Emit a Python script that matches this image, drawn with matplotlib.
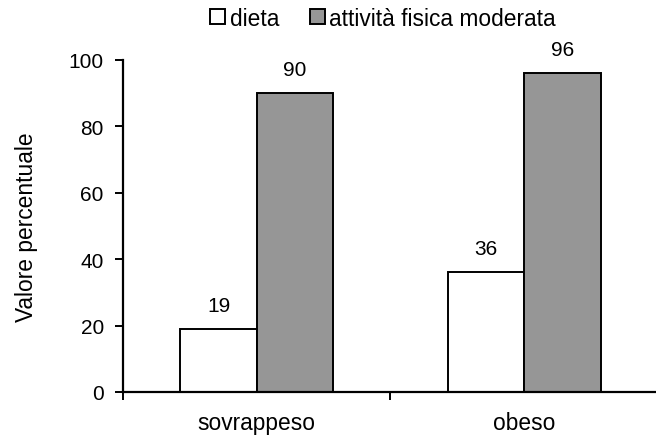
import numpy as np
import matplotlib
matplotlib.use("Agg")
import matplotlib.pyplot as plt

plt.rcParams.update({"font.family": ["Liberation Sans", "DejaVu Sans"],
                     "font.size": 15})

categories = ["sovrappeso", "obeso"]
dieta = [19, 36]
attivita = [90, 96]
series_names = ["dieta", "attività fisica moderata"]

x = np.arange(len(categories))
w = 0.2866
txt = 16.4   # word labels come out a bit wider than the digits in the original

fig = plt.figure(figsize=(6.56, 4.39), dpi=100)
ax = fig.add_axes([123.2 / 656, 1 - 393.0 / 439, 534.6 / 656, 332.3 / 439])

b1 = ax.bar(x - w / 2, dieta, w, color="white", edgecolor="black", lw=1.4,
            label=series_names[0])
b2 = ax.bar(x + w / 2, attivita, w, color="#969696", edgecolor="black", lw=1.4,
            label=series_names[1])
ax.bar_label(b1, padding=10, fontsize=15)
ax.bar_label(b2, padding=10, fontsize=15)

ax.set_xlim(-0.5, len(categories) - 0.5)
ax.set_ylim(0, 100)
ax.set_yticks(np.arange(0, 101, 20))
ax.tick_params(axis="y", direction="out", length=6, width=1.4, pad=8)

# ticks on category boundaries, labels at the centres
ax.set_xticks(np.arange(-0.5, len(categories), 1.0))
ax.set_xticklabels([])
ax.set_xticks(x, minor=True)
ax.set_xticklabels(categories, minor=True, fontsize=txt)
ax.tick_params(axis="x", which="major", direction="out", length=6, width=1.4)
ax.tick_params(axis="x", which="minor", length=0, pad=14)

for s in ["top", "right"]:
    ax.spines[s].set_visible(False)
for s in ["left", "bottom"]:
    ax.spines[s].set_linewidth(1.6)
ax.spines["bottom"].set_zorder(3)

ax.set_ylabel("Valore percentuale", fontsize=txt)
ax.yaxis.set_label_coords(-0.16, 0.5)

fig.legend(loc="center", bbox_to_anchor=(383 / 656, 1 - 19 / 439), ncol=2,
           frameon=False, handlelength=0.66, handleheight=0.66,
           handletextpad=0.2, columnspacing=1.35, borderpad=0, fontsize=txt)

fig.savefig("out.png", dpi=100)
